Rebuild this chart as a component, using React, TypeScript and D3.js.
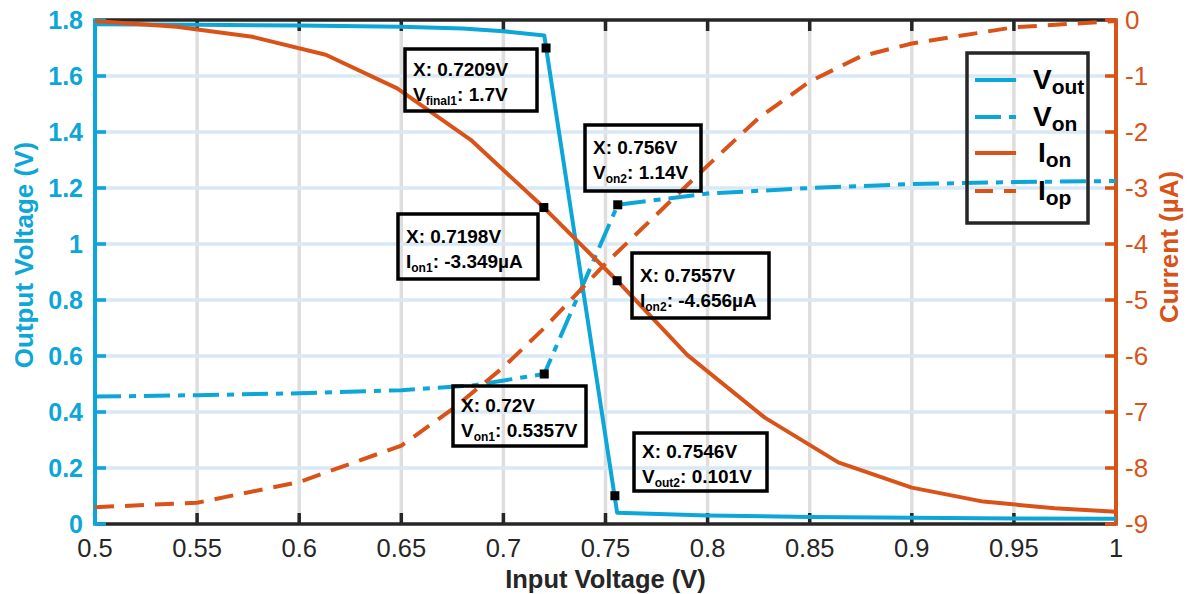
import React from 'react';
import * as d3 from 'd3';

// sweep data
const voutX = [0.5, 0.55, 0.6, 0.65, 0.68, 0.7, 0.72, 0.7557, 0.8, 0.85, 0.9, 0.95, 1.0];
const voutY = [1.785, 1.783, 1.78, 1.776, 1.77, 1.76, 1.745, 0.04, 0.03, 0.025, 0.022, 0.02, 0.019];

const vonX = [0.5, 0.55, 0.6, 0.65, 0.685, 0.72, 0.756, 0.8, 0.85, 0.9, 0.95, 1.0];
const vonY = [0.455, 0.46, 0.467, 0.478, 0.495, 0.5357, 1.14, 1.18, 1.2, 1.214, 1.221, 1.225];

const ionX = [0.5, 0.54, 0.577, 0.613, 0.648, 0.684, 0.7198, 0.7557, 0.79, 0.828, 0.864, 0.9, 0.935, 0.97, 1.0];
const ionY = [-0.02, -0.12, -0.3, -0.62, -1.22, -2.14, -3.349, -4.656, -5.98, -7.1, -7.9, -8.35, -8.6, -8.72, -8.78];

const iopX = [0.5, 0.55, 0.6, 0.65, 0.675, 0.7, 0.72, 0.75, 0.78, 0.8, 0.825, 0.85, 0.875, 0.9, 0.95, 1.0];
const iopY = [-8.7, -8.62, -8.25, -7.6, -6.95, -6.2, -5.5, -4.35, -3.3, -2.6, -1.75, -1.1, -0.65, -0.42, -0.13, -0.02];

const xTicks = [0.5, 0.55, 0.6, 0.65, 0.7, 0.75, 0.8, 0.85, 0.9, 0.95, 1];
const yLeftTicks = [0, 0.2, 0.4, 0.6, 0.8, 1, 1.2, 1.4, 1.6, 1.8];
const yRightTicks = [0, -1, -2, -3, -4, -5, -6, -7, -8, -9];

// data tips: point, axis, label lines, box corner
const tips = [
  { x: 0.7209, y: 1.7, axis: 'left', name: 'V', sub: 'final1', val: '1.7V', bx: 405, by: 49, bw: 132, bh: 62 },
  { x: 0.756, y: 1.14, axis: 'left', name: 'V', sub: 'on2', val: '1.14V', bx: 585, by: 125, bw: 116, bh: 66 },
  { x: 0.7198, y: -3.349, axis: 'right', name: 'I', sub: 'on1', val: '-3.349\u00b5A', bx: 398, by: 214, bw: 140, bh: 65 },
  { x: 0.7557, y: -4.656, axis: 'right', name: 'I', sub: 'on2', val: '-4.656\u00b5A', bx: 632, by: 253, bw: 137, bh: 65 },
  { x: 0.72, y: 0.5357, axis: 'left', name: 'V', sub: 'on1', val: '0.5357V', bx: 453, by: 386, bw: 133, bh: 60 },
  { x: 0.7546, y: 0.101, axis: 'left', name: 'V', sub: 'out2', val: '0.101V', bx: 634, by: 433, bw: 133, bh: 58 },
];
const tipXLabels = ['0.7209V', '0.756V', '0.7198V', '0.7557V', '0.72V', '0.7546V'];

const BLUE = '#0DA6D8';
const ORANGE = '#D95319';
const DARK = '#262626';
const FONT = '"Liberation Sans", Arial, Helvetica, sans-serif';

const left = 95, right = 1116, top = 20, bottom = 524;

export default function App() {
  const x = d3.scaleLinear().domain([0.5, 1]).range([left, right]);
  const yL = d3.scaleLinear().domain([0, 1.8]).range([bottom, top]);
  const yR = d3.scaleLinear().domain([-9, 0]).range([bottom, top]);

  const mk = (xs: number[], ys: number[], sy: d3.ScaleLinear<number, number>) =>
    d3.line<number>().x((d, i) => x(xs[i])).y((d, i) => sy(ys[i]))(ys) || '';

  const legend = [
    { name: 'V', sub: 'out', color: BLUE, dash: 'none', ly: 80 },
    { name: 'V', sub: 'on', color: BLUE, dash: '26 8 7 8', ly: 117 },
    { name: 'I', sub: 'on', color: ORANGE, dash: 'none', ly: 153 },
    { name: 'I', sub: 'op', color: ORANGE, dash: '18 11', ly: 191 },
  ];

  return (
    <svg width={1187} height={594} style={{ position: 'absolute', left: 0, top: 0, background: '#fff' }} fontFamily={FONT}>
      {/* grid */}
      {xTicks.slice(1, -1).map(t => (
        <line key={'gx' + t} x1={x(t)} x2={x(t)} y1={top} y2={bottom} stroke="#dedede" strokeWidth={3.5} />
      ))}
      {yLeftTicks.slice(1, -1).map(t => (
        <line key={'gy' + t} x1={left} x2={right} y1={yL(t)} y2={yL(t)} stroke="#d8e8f4" strokeWidth={3.5} />
      ))}

      {/* axes */}
      <line x1={left} x2={right} y1={bottom} y2={bottom} stroke={DARK} strokeWidth={3.5} />
      <line x1={left} x2={right} y1={top} y2={top} stroke={DARK} strokeWidth={3.5} />
      {xTicks.map(t => (
        <g key={'xt' + t}>
          <line x1={x(t)} x2={x(t)} y1={bottom} y2={bottom - 11} stroke={DARK} strokeWidth={3.5} />
          <line x1={x(t)} x2={x(t)} y1={top} y2={top + 11} stroke={DARK} strokeWidth={3.5} />
          <text x={x(t)} y={557} textAnchor="middle" fontSize={25.5} fill={DARK}>{String(t)}</text>
        </g>
      ))}
      <line x1={left} x2={left} y1={top - 1.75} y2={bottom + 1.75} stroke={BLUE} strokeWidth={4} />
      {yLeftTicks.map(t => (
        <g key={'yl' + t}>
          <line x1={left} x2={left + 11} y1={yL(t)} y2={yL(t)} stroke={BLUE} strokeWidth={3.5} />
          <text x={83} y={yL(t)} dy="0.36em" textAnchor="end" fontSize={25} fontWeight="bold" fill={BLUE}>{String(t)}</text>
        </g>
      ))}
      <line x1={right} x2={right} y1={top - 1.75} y2={bottom + 1.75} stroke={ORANGE} strokeWidth={4} />
      {yRightTicks.map(t => (
        <g key={'yr' + t}>
          <line x1={right} x2={right - 11} y1={yR(t)} y2={yR(t)} stroke={ORANGE} strokeWidth={3.5} />
          <text x={1125} y={yR(t)} dy="0.36em" textAnchor="start" fontSize={26} fill={ORANGE}>{String(t)}</text>
        </g>
      ))}

      {/* axis titles */}
      <text x={(left + right) / 2} y={588} textAnchor="middle" fontSize={25.5} fontWeight="bold" fill={DARK}>Input Voltage (V)</text>
      <text transform="translate(33,255) rotate(-90)" textAnchor="middle" fontSize={26} fontWeight="bold" fill={BLUE}>Output Voltage (V)</text>
      <text transform="translate(1178,247) rotate(-90)" textAnchor="middle" fontSize={26} fontWeight="bold" fill={ORANGE}>Current (µA)</text>

      {/* series */}
      <path d={mk(voutX, voutY, yL)} fill="none" stroke={BLUE} strokeWidth={4} strokeLinejoin="round" />
      <path d={mk(vonX, vonY, yL)} fill="none" stroke={BLUE} strokeWidth={4} strokeDasharray="26 8 7 8" />
      <path d={mk(ionX, ionY, yR)} fill="none" stroke={ORANGE} strokeWidth={4} strokeLinejoin="round" />
      <path d={mk(iopX, iopY, yR)} fill="none" stroke={ORANGE} strokeWidth={4} strokeDasharray="19 11" />

      {/* legend */}
      <rect x={967} y={53} width={121} height={170} fill="none" stroke={DARK} strokeWidth={3.5} />
      {legend.map(l => (
        <g key={l.sub + l.ly}>
          <line x1={975} x2={1016} y1={l.ly} y2={l.ly} stroke={l.color} strokeWidth={4} strokeDasharray={l.dash} />
          <text x={l.name === 'I' ? 1038 : 1033} y={l.ly + 9} fontSize={28} fontWeight="bold" fill="#000">
            {l.name}
            <tspan fontSize={21} dy={4.5}>{l.sub}</tspan>
          </text>
        </g>
      ))}

      {/* data tips */}
      {tips.map((t, i) => {
        const sy = t.axis === 'left' ? yL : yR;
        return (
          <g key={'tip' + i}>
            <rect x={t.bx} y={t.by} width={t.bw} height={t.bh} fill="none" stroke="#000" strokeWidth={3.5} />
            <text x={t.bx + 8} y={t.by + t.bh / 2 - 4} fontSize={19} fontWeight="bold" fill="#000">X: {tipXLabels[i]}</text>
            <text x={t.bx + 8} y={t.by + t.bh / 2 + 21} fontSize={19} fontWeight="bold" fill="#000">
              {t.name}
              <tspan fontSize={12} dy={4}>{t.sub}</tspan>
              <tspan dy={-4}>: {t.val}</tspan>
            </text>
            <rect x={x(t.x) - 4.5} y={sy(t.y) - 4.5} width={9} height={9} fill="#000" />
          </g>
        );
      })}
    </svg>
  );
}
